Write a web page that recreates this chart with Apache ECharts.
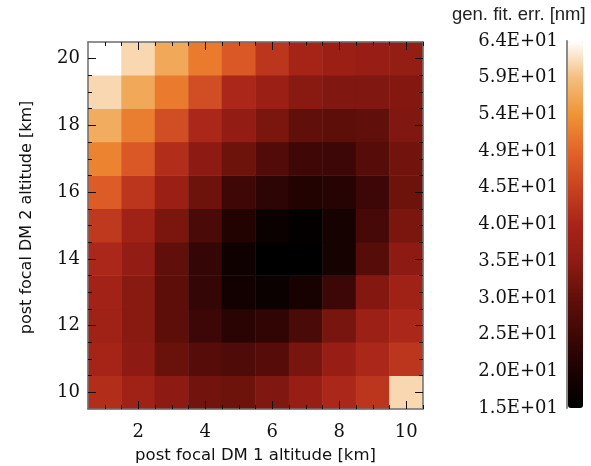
<!DOCTYPE html>
<html>
<head>
<meta charset="utf-8">
<script src="https://cdn.jsdelivr.net/npm/echarts@6/dist/echarts.min.js"></script>
<style>
html,body{margin:0;padding:0;background:#fff;}
#chart{width:591px;height:466px;}
</style>
</head>
<body>
<div id="chart"></div>
<script>
// x: post focal DM 1 altitude [km], y: post focal DM 2 altitude [km]
const xAltitudes = [1, 2, 3, 4, 5, 6, 7, 8, 9, 10];
const yAltitudes = [10, 11, 12, 13, 14, 15, 16, 17, 18, 19, 20];

// generalized fitting error [nm], one row per DM2 altitude (x = 1..10)
const err_y20 = [64, 61, 56.5, 51.5, 47.5, 42.5, 39, 37, 36.5, 36];
const err_y19 = [61, 56.5, 51.5, 46, 40, 37, 34, 33, 33, 33.5];
const err_y18 = [57, 52, 46, 40, 35.5, 32.5, 29.5, 29, 29.5, 33];
const err_y17 = [52.5, 47.5, 41, 34.5, 31, 27.5, 25, 24.5, 28, 31.5];
const err_y16 = [48, 42.5, 37, 31, 25, 22.5, 21, 21.5, 24.5, 31];
const err_y15 = [43, 38, 32.5, 26.5, 21, 17, 16, 19, 26, 32.5];
const err_y14 = [40, 35.5, 29.5, 23.5, 18, 15, 15, 19, 28, 34.5];
const err_y13 = [38.5, 34, 29, 23.5, 18.5, 17, 19.5, 24.5, 33.5, 38];
const err_y12 = [38, 34, 29, 24.5, 22, 23, 26.5, 32, 37.5, 40];
const err_y11 = [39, 34.5, 30.5, 28, 27, 28, 32, 36.5, 40, 42.5];
const err_y10 = [41, 38, 34.5, 31.5, 31, 33, 36.5, 40, 42.5, 61];
const rowsBottomToTop = [err_y10, err_y11, err_y12, err_y13, err_y14, err_y15, err_y16, err_y17, err_y18, err_y19, err_y20];

const colorMin = 15;
const colorMax = 64;
const colorbarLabels = ['1.5E+01', '2.0E+01', '2.5E+01', '3.0E+01', '3.5E+01', '4.0E+01', '4.5E+01', '4.9E+01', '5.4E+01', '5.9E+01', '6.4E+01'];

const xTickLabels = [2, 4, 6, 8, 10];
const yTickLabels = [10, 12, 14, 16, 18, 20];
const xMajorTicks = [2, 4, 6, 8, 10];
const yMajorTicks = [10, 12, 14, 16, 18, 20];
const xMinorTicks = [1, 1.5, 2.5, 3, 3.5, 4.5, 5, 5.5, 6.5, 7, 7.5, 8.5, 9, 9.5, 10.5];
const yMinorTicks = [10.5, 11, 11.5, 12.5, 13, 13.5, 14.5, 15, 15.5, 16.5, 17, 17.5, 18.5, 19, 19.5];

const heatColors = ['#000000', '#1a0201', '#3e0706', '#620f0a', '#8e1b13', '#a82418', '#c84220', '#e46428', '#ef9436', '#f4be80', '#ffffff'];

const cells = [];
rowsBottomToTop.forEach((row, yi) => {
  row.forEach((v, xi) => cells.push([xi, yi, v]));
});

const serif = 'DejaVu Serif';
const sans = 'DejaVu Sans';
const frameColor = '#6e6e6e';
const tickColor = '#111';

function tickAxis(pos, min, max, ticks, len, extra) {
  return Object.assign({
    type: 'value', gridIndex: 0, position: pos, min: min, max: max, z: 10,
    axisLine: { show: false, onZero: false },
    axisTick: { show: true, inside: true, length: len, customValues: ticks, lineStyle: { color: tickColor, width: 1 } },
    axisLabel: { show: false },
    splitLine: { show: false }
  }, extra || {});
}

const chart = echarts.init(document.getElementById('chart'), null, { renderer: 'canvas' });
chart.setOption({
  animation: false,
  backgroundColor: '#ffffff',
  title: {
    text: 'gen. fit. err. [nm]',
    left: 452, top: 5, padding: 0,
    textStyle: { fontFamily: 'Liberation Sans', fontSize: 18.5, fontWeight: 'normal', color: '#222' }
  },
  grid: [
    { left: 88, top: 42, width: 335, height: 367, outerBoundsMode: 'none', containLabel: false },
    { left: 567, top: 41, width: 16, height: 367, outerBoundsMode: 'none', containLabel: false }
  ],
  xAxis: [
    { type: 'category', gridIndex: 0, data: xAltitudes.map(String), show: false },
    {
      type: 'value', gridIndex: 0, position: 'bottom', min: 0.5, max: 10.5, z: 10,
      axisLine: { show: true, onZero: false, lineStyle: { color: frameColor, width: 1.5 } },
      axisTick: { show: true, inside: true, length: 4, customValues: xMinorTicks, lineStyle: { color: tickColor } },
      axisLabel: { customValues: xTickLabels, fontFamily: serif, fontSize: 18, color: '#111', margin: 14 },
      splitLine: { show: false },
      name: 'post focal DM 1 altitude [km]', nameLocation: 'middle', nameGap: 38,
      nameTextStyle: { fontFamily: sans, fontSize: 16.5, color: '#111' }
    },
    tickAxis('bottom', 0.5, 10.5, xMajorTicks, 8),
    tickAxis('top', 0.5, 10.5, xMinorTicks, 4, { axisLine: { show: true, onZero: false, lineStyle: { color: frameColor, width: 1.5 } } }),
    tickAxis('top', 0.5, 10.5, xMajorTicks, 8),
    { type: 'value', gridIndex: 1, min: 0, max: 1, show: false }
  ],
  yAxis: [
    { type: 'category', gridIndex: 0, data: yAltitudes.map(String), show: false },
    {
      type: 'value', gridIndex: 0, position: 'left', min: 9.5, max: 20.5, z: 10,
      axisLine: { show: true, onZero: false, lineStyle: { color: frameColor, width: 1.5 } },
      axisTick: { show: true, inside: true, length: 4, customValues: yMinorTicks, lineStyle: { color: tickColor } },
      axisLabel: { customValues: yTickLabels, fontFamily: serif, fontSize: 18, color: '#111', margin: 8 },
      splitLine: { show: false },
      name: 'post focal DM 2 altitude [km]', nameLocation: 'middle', nameGap: 53,
      nameTextStyle: { fontFamily: sans, fontSize: 16, color: '#111', padding: [0, 0, 0, 16] }
    },
    tickAxis('left', 9.5, 20.5, yMajorTicks, 8),
    tickAxis('right', 9.5, 20.5, yMinorTicks, 4, { axisLine: { show: true, onZero: false, lineStyle: { color: frameColor, width: 1.5 } } }),
    tickAxis('right', 9.5, 20.5, yMajorTicks, 8),
    {
      type: 'category', gridIndex: 1, data: colorbarLabels, boundaryGap: false, position: 'left', z: 10,
      axisLine: { show: true, onZero: false, lineStyle: { color: '#8a8a8a', width: 2 } },
      axisTick: { show: false },
      axisLabel: { interval: 0, fontFamily: serif, fontSize: 18, color: '#111', margin: 9 },
      splitLine: { show: false }
    }
  ],
  visualMap: {
    type: 'continuous', min: colorMin, max: colorMax, seriesIndex: 0,
    calculable: false, showLabel: false, text: ['', ''], padding: 0,
    left: 568, top: 41, itemWidth: 15, itemHeight: 367,
    inRange: { color: heatColors }
  },
  series: [{
    type: 'heatmap', xAxisIndex: 0, yAxisIndex: 0,
    data: cells,
    itemStyle: { borderWidth: 0 },
    emphasis: { disabled: true },
    progressive: 0
  }]
});
</script>
</body>
</html>
